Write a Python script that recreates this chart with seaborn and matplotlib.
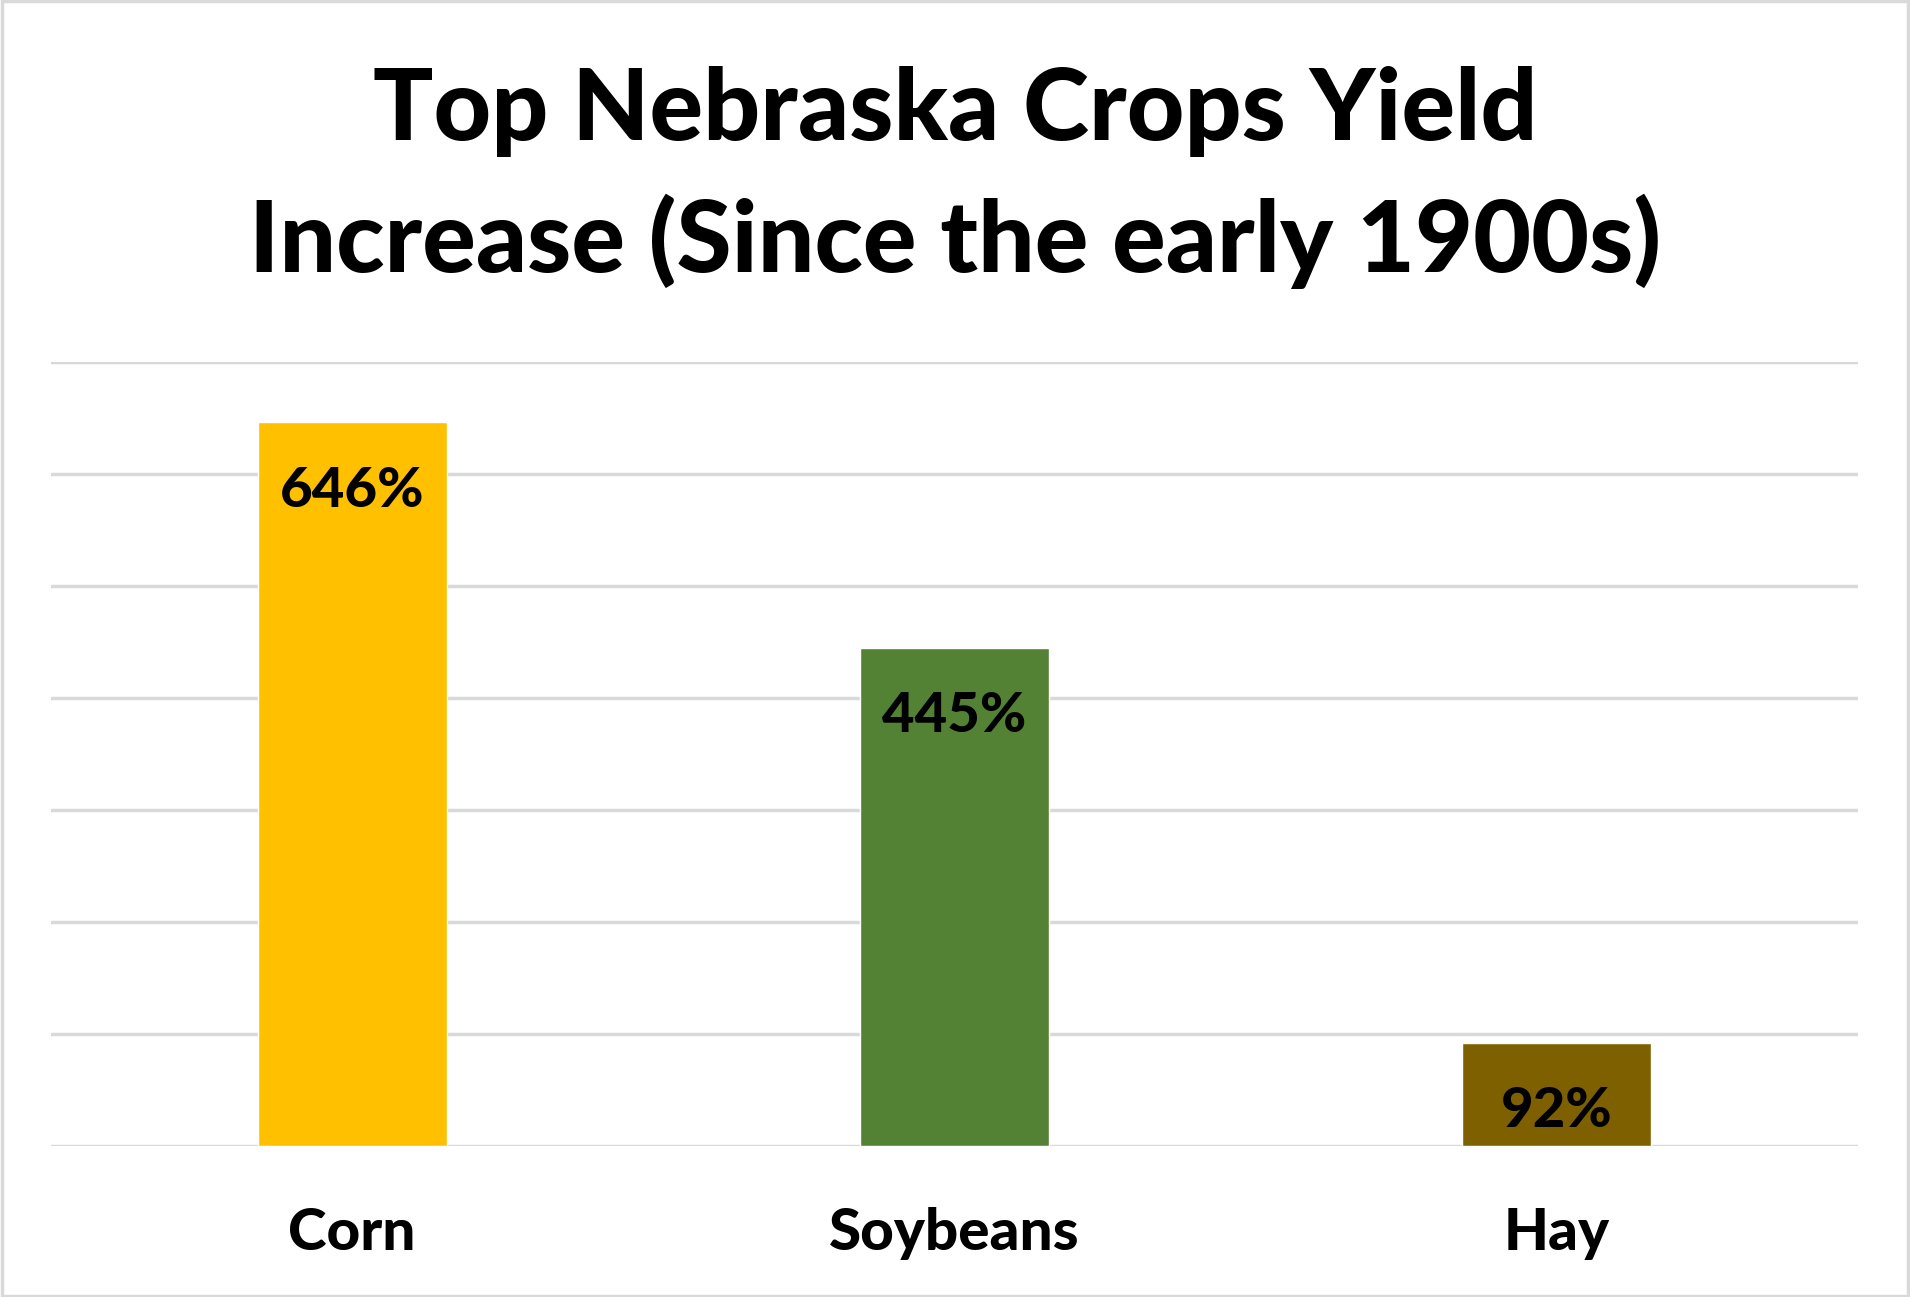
import matplotlib.pyplot as plt
import seaborn as sns
import pandas as pd
from matplotlib.patches import Rectangle

# chart data
crops = ["Corn", "Soybeans", "Hay"]
yield_increase = [646, 445, 92]
bar_colors = ["#FFC000", "#548235", "#7F6000"]
title_text = "Top Nebraska Crops Yield\nIncrease (Since the early 1900s)"

sns.set_theme(style="white")
plt.rcParams["font.family"] = ["Lato", "DejaVu Sans"]
plt.rcParams["text.color"] = "black"
plt.rcParams["xtick.color"] = "black"

df = pd.DataFrame({"crop": crops, "pct": yield_increase})

fig = plt.figure(figsize=(19.1, 12.97), dpi=100)
ax = fig.add_axes([0.0267, 0.1164, 0.9461, 0.6045])

sns.barplot(data=df, x="crop", y="pct", hue="crop", palette=bar_colors,
            width=0.314, saturation=1, legend=False, ax=ax, zorder=3)

ax.set_xlim(-0.5, 2.5)
ax.set_ylim(0, 700)
ax.set_yticks(range(0, 701, 100))
ax.yaxis.grid(True, color="#D9D9D9", linewidth=2.5, zorder=0)
ax.set_axisbelow(True)
ax.tick_params(axis="y", left=False, labelleft=False)
ax.tick_params(axis="x", bottom=False, pad=38, labelsize=42, labelcolor="black")
for lbl in ax.get_xticklabels():
    lbl.set_fontweight("black")
ax.set_xlabel("")
ax.set_ylabel("")
for s in ax.spines.values():
    s.set_visible(False)

# value labels just inside the top of each bar
for i, v in enumerate(yield_increase):
    ax.annotate(f"{v}%", (i, v), xytext=(0, -49), textcoords="offset points",
                ha="center", va="center", fontsize=40.5, fontweight="black",
                color="black", zorder=4)

fig.text(0.5, 0.949, title_text, ha="center", va="top", fontsize=72,
         fontweight="black", color="black", linespacing=1.46)

# light grey frame around the chart
fig.patches.append(Rectangle((0.001, 0.001), 0.998, 0.998, transform=fig.transFigure,
                             fill=False, edgecolor="#D9D9D9", linewidth=2.5))

fig.savefig("out.png", dpi=100, facecolor="white")
